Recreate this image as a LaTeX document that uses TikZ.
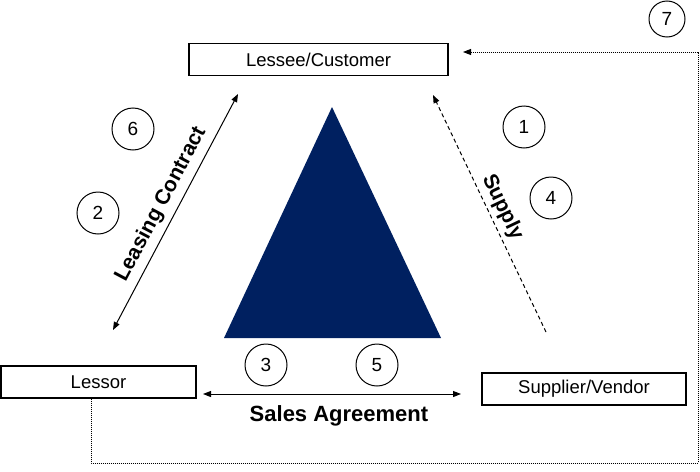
\documentclass[tikz,border=0pt]{standalone}
\usepackage{fontspec}
\setmainfont{Liberation Sans}
\usetikzlibrary{arrows.meta}
\definecolor{navyblue}{RGB}{0,32,96}
\tikzset{
  party/.style={draw, line width=1.2pt, inner sep=0pt, minimum height=32pt,
    font=\fontsize{18.5}{20}\selectfont},
  num/.style={draw, circle, line width=1pt, inner sep=0pt, minimum size=42pt,
    font=\fontsize{19}{21}\selectfont},
  tip/.style={line width=1pt, >={Triangle[length=8pt,width=6pt]}},
  dotline/.style={line width=1pt, dash pattern=on 1pt off 1pt},
  dashline/.style={dash pattern=on 4pt off 3pt},
  lbl/.style={font=\bfseries\fontsize{21}{23}\selectfont}
}
\begin{document}
\begin{tikzpicture}[x=1pt, y=-1pt]
        \useasboundingbox (0,0) rectangle (700,471);
        % the three parties
        \node[party, minimum width=259pt] (lessee) at (318.5,59.5) {Lessee/Customer};
        \node[party, minimum width=195pt] (lessor) at (98.5,382) {Lessor};
        \node[party, minimum width=204pt] (supplier) at (584,389) {Supplier/Vendor};
        % triangle
        \fill[navyblue] (332,107) -- (441,338) -- (224,338) -- cycle;
        % connector ends
        \coordinate (lcLow) at (113,330);
        \coordinate (lcHigh) at (238,94);
        \coordinate (supLow) at (546,332);
        \coordinate (supHigh) at (433,95);
        \coordinate (saLeft) at (203,394);
        \coordinate (saRight) at (461,394);
        \coordinate (backIn) at (463,52);
        \draw[tip, <->] (lcLow) -- node[lbl, sloped, above, inner sep=6pt] {Leasing Contract} (lcHigh);
        \draw[tip, dashline, ->] (supLow) -- node[lbl, sloped, above, inner sep=4pt] {Supply} (supHigh);
        \draw[tip, <->] (saLeft) -- (saRight);
        \node[lbl, font=\bfseries\fontsize{22}{24}\selectfont, anchor=base] (sales) at (339,421) {Sales Agreement};
        \draw[dotline, -{Triangle[length=8pt,width=6pt]}] (lessor.south -| 91,0) -- (91,463) -- (698,463) -- (698,52) -- (backIn);
        % step numbers
        \node[num] (n1) at (524,127) {1};
        \node[num] (n2) at (98,213) {2};
        \node[num] (n3) at (266,365) {3};
        \node[num] (n4) at (551,198) {4};
        \node[num] (n5) at (377,365) {5};
        \node[num] (n6) at (133,129) {6};
        \node[num, minimum size=36pt] (n7) at (667,19) {7};
\end{tikzpicture}
\end{document}
